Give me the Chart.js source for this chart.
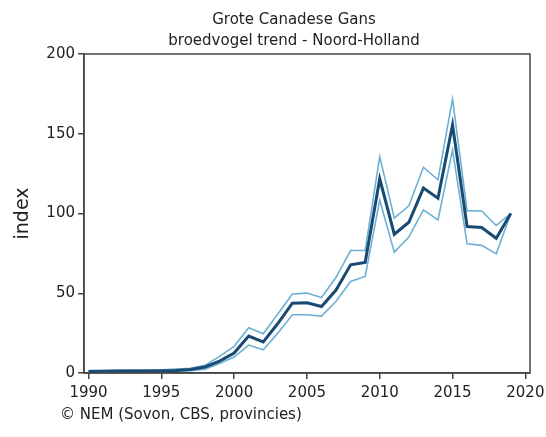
<!DOCTYPE html>
<html>
<head>
<meta charset="utf-8">
<script src="https://cdn.jsdelivr.net/npm/chart.js@4"></script>
<style>
  html, body { margin: 0; padding: 0; background: #fff; }
  #wrap { width: 546px; height: 437px; position: relative; }
</style>
</head>
<body>
<div id="wrap"><canvas id="trend"></canvas></div>
<script>
const years = [1990, 1991, 1992, 1993, 1994, 1995, 1996, 1997, 1998, 1999,
               2000, 2001, 2002, 2003, 2004, 2005, 2006, 2007, 2008, 2009,
               2010, 2011, 2012, 2013, 2014, 2015, 2016, 2017, 2018, 2019];
const trend = [1.0, 1.1, 1.2, 1.2, 1.3, 1.4, 1.6, 2.2, 3.8, 7.5,
               12.5, 23.2, 19.5, 31, 43.8, 44, 41.7, 52, 67.8, 69.3,
               121.7, 87, 94.5, 115.9, 109.6, 155.5, 91.8, 91.2, 84.5, 100];
const upper = [1.5, 1.6, 1.7, 1.8, 1.9, 2.0, 2.4, 3.0, 4.8, 10.4,
               16.7, 28.4, 24.6, 37, 49.5, 50.1, 47.3, 60, 76.8, 76.8,
               135.7, 97.1, 104.8, 129, 121.1, 171.8, 101.8, 101.6, 92.5, 100];
const lower = [0.6, 0.7, 0.8, 0.8, 0.9, 1.0, 1.1, 1.5, 2.4, 6.0,
               10, 17.5, 14.6, 25, 36.5, 36.5, 35.7, 45, 57.4, 60.5,
               108.5, 75.8, 85.2, 102.3, 96, 139.9, 81, 80, 74.7, 100];
const xTicks = [1990, 1995, 2000, 2005, 2010, 2015, 2020];
const yTicks = [0, 50, 100, 150, 200];

const titleLines = ['Grote Canadese Gans', 'broedvogel trend - Noord-Holland'];
const footer = '\u00A9 NEM (Sovon, CBS, provincies)';

function points(vals) {
    return years.map(function (y, i) { return { x: y, y: vals[i] }; });
}

// frame around the plot plus title and source line
const extras = {
    id: 'extras',
    afterDraw: function (chart) {
        const ctx = chart.ctx;
        const a = chart.chartArea;
        ctx.save();
        ctx.strokeStyle = '#444';
        ctx.lineWidth = 1.5;
        ctx.strokeRect(a.left, a.top, a.right - a.left, a.bottom - a.top);
        ctx.fillStyle = '#222';
        ctx.textAlign = 'center';
        ctx.textBaseline = 'middle';
        ctx.font = '15px "DejaVu Sans"';
        ctx.fillText(titleLines[0], 294, 20);
        ctx.fillText(titleLines[1], 294, 41);
        ctx.textAlign = 'left';
        ctx.fillText(footer, 60, 415);
        ctx.restore();
    }
};

const lineData = {
    datasets: [
        {
            label: 'trend',
            data: points(trend),
            borderColor: 'rgb(24, 74, 115)',
            borderWidth: 3,
            pointRadius: 0,
            tension: 0,
        },
        {
            label: 'upper',
            data: points(upper),
            borderColor: 'rgb(108, 176, 212)',
            borderWidth: 1.6,
            pointRadius: 0,
            tension: 0,
        },
        {
            label: 'lower',
            data: points(lower),
            borderColor: 'rgb(108, 176, 212)',
            borderWidth: 1.6,
            pointRadius: 0,
            tension: 0,
        }
    ]
};

new Chart("trend",
    {
        type: "line",
        data: lineData,
        plugins: [extras],
        options: {
            responsive: true,
            maintainAspectRatio: false,
            animation: false,
            layout: { padding: { top: 54, right: 16, bottom: 0, left: 0 } },
            plugins: {
                legend: { display: false },
                tooltip: { enabled: false },
            },
            scales: {
                x: {
                    type: 'linear',
                    min: 1989.69,
                    max: 2020.32,
                    afterBuildTicks: function (scale) {
                        scale.ticks = xTicks.map(function (v) { return { value: v }; });
                    },
                    afterFit: function (scale) {
                        scale.height = 64;
                        scale.paddingLeft = 0;
                        scale.paddingRight = 0;
                    },
                    grid: { display: true, drawOnChartArea: false, color: '#444', lineWidth: 1.5, tickLength: 6 },
                    border: { color: '#444', width: 1.5 },
                    ticks: {
                        color: '#222',
                        padding: 5,
                        autoSkip: false,
                        maxRotation: 0,
                        font: { size: 15, family: 'DejaVu Sans' },
                        callback: function (v) { return String(v); }
                    }
                },
                y: {
                    min: 0,
                    max: 200,
                    afterBuildTicks: function (scale) {
                        scale.ticks = yTicks.map(function (v) { return { value: v }; });
                    },
                    afterFit: function (scale) { scale.width = 84; },
                    grid: { display: true, drawOnChartArea: false, color: '#444', lineWidth: 1.5, tickLength: 6 },
                    border: { color: '#444', width: 1.5 },
                    title: {
                        display: true,
                        text: 'index',
                        color: '#222',
                        padding: { top: 12, bottom: 4 },
                        font: { size: 19, family: 'DejaVu Sans' }
                    },
                    ticks: {
                        color: '#222',
                        padding: 3,
                        font: { size: 15, family: 'DejaVu Sans' }
                    }
                }
            }
        }
    }
);
</script>
</body>
</html>
